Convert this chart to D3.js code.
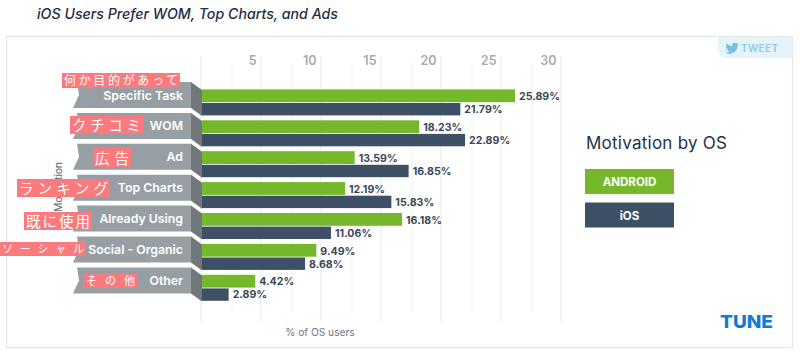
<!DOCTYPE html>
<html><head><meta charset="utf-8">
<script src="https://d3js.org/d3.v7.min.js"></script>
<style>html,body{margin:0;background:#fff}svg{display:block}text{font-family:Inter,"Open Sans",sans-serif}</style>
</head><body><svg id="c" width="800" height="357"></svg>
<script>
const categories=["Specific Task","WOM","Ad","Top Charts","Already Using","Social - Organic","Other"];
const notes=["何か目的があって","クチコミ","広告","ランキング","既に使用","ソーシャル","その他"];
// printed labels
const androidLabels=[25.89,18.23,13.59,12.19,16.18,9.49,4.42];
const iosLabels=[21.79,22.89,16.85,15.83,11.06,8.68,2.89];
// bar lengths as actually drawn in the picture, read against the axis
const androidBars=[26.08,18.1,12.72,11.92,16.67,9.53,4.44];
const iosBars=[21.53,21.92,17.22,15.78,10.75,8.59,2.22];
const majorTicks=[5,10,15,20,25,30];
const minorTicks=[2.5,7.5,12.5,17.5,22.5,27.5];
const seriesNames=["ANDROID","iOS"];
const noteBoxes=[[62,180,73,88],[70,143,116,134],[93,131,148,167],[17,110,179,197],[24,92,212,230],[0,86,242,256],[84,137,274,288]];

const GREEN="#76b82c",NAVY="#3d5066",RIB="#989fa4",FOLD="#71787c",PINK="#fb7a7e";
const svg=d3.select("#c");
const x=d3.scaleLinear().domain([0,30]).range([202,562]);
const y=d3.scaleBand().domain(categories).range([82,82+7*30.9]);
const rows=categories.map((c,i)=>({c,i,a:androidBars[i],s:iosBars[i],la:androidLabels[i],ls:iosLabels[i],n:notes[i]}));

svg.append("text").text("iOS Users Prefer WOM, Top Charts, and Ads")
 .attr("x",37).attr("y",19).attr("font-size",14).attr("font-style","italic").attr("font-weight",500)
 .attr("fill","#1f2d44").attr("textLength",301).attr("lengthAdjust","spacingAndGlyphs");
svg.append("rect").attr("x",6.5).attr("y",36.5).attr("width",786).attr("height",311)
 .attr("fill","#fff").attr("stroke","#e3e6e7").attr("stroke-width",1.2);

// tweet tab
svg.append("path").attr("d","M718 37H792.5V58H728Q718 58 718 48Z").attr("fill","#e6f3f9");
svg.append("path").attr("transform","translate(725.5,41.5) scale(.56)").attr("fill","#74bfe2")
 .attr("d","M23.953 4.57a10 10 0 01-2.825.775 4.958 4.958 0 002.163-2.723c-.951.555-2.005.959-3.127 1.184a4.92 4.92 0 00-8.384 4.482C7.69 8.095 4.067 6.13 1.64 3.162a4.822 4.822 0 00-.666 2.475c0 1.71.87 3.213 2.188 4.096a4.904 4.904 0 01-2.228-.616v.06a4.923 4.923 0 003.946 4.827 4.996 4.996 0 01-2.212.085 4.936 4.936 0 004.604 3.417 9.867 9.867 0 01-6.102 2.105c-.39 0-.779-.023-1.17-.067a13.995 13.995 0 007.557 2.209c9.053 0 13.998-7.496 13.998-13.985 0-.21 0-.42-.015-.63A9.935 9.935 0 0024 4.59z");
svg.append("text").text("TWEET").attr("x",741).attr("y",52).attr("font-size",10).attr("font-weight",600).attr("fill","#8ccbe8")
 .attr("textLength",37);

// grid
svg.append("g").selectAll("line").data(minorTicks).join("line")
 .attr("x1",x).attr("x2",x).attr("y1",65).attr("y2",313).attr("stroke","#f3f4f5").attr("stroke-width",1.2);
svg.append("g").selectAll("line").data([0,...majorTicks]).join("line")
 .attr("x1",d=>x(d)-1).attr("x2",d=>x(d)-1).attr("y1",56).attr("y2",321).attr("stroke","#e9ebec").attr("stroke-width",1.2);
svg.append("g").selectAll("text").data(majorTicks).join("text").text(d=>d)
 .attr("x",d=>x(d)-5.5).attr("y",64.5).attr("text-anchor","end").attr("font-size",12.5).attr("font-weight",600).attr("fill","#a6abae");

// y title (sits behind ribbons and notes)
svg.append("text").text("Motivation").attr("transform","translate(62,212) rotate(-90)")
 .attr("font-size",10.5).attr("fill","#5d6468").attr("textLength",50);

// ribbons
const g=svg.append("g").selectAll("g").data(rows).join("g").attr("transform",d=>`translate(0,${y(d.c)})`);
g.append("path").attr("fill",FOLD).attr("d","M191 0L202 8V34L191 26Z");
g.append("path").attr("fill",RIB).attr("d","M77 0H191V26H73L79 13Z");
g.append("text").text(d=>d.c).attr("x",183).attr("y",17.5).attr("text-anchor","end")
 .attr("font-size",12.3).attr("font-weight",600).attr("fill","#fff");

// bars
g.append("rect").attr("x",x(0)).attr("y",7.4).attr("height",12.8).attr("width",d=>x(d.a)-x(0)).attr("fill",GREEN);
g.append("rect").attr("x",x(0)).attr("y",21).attr("height",12.4).attr("width",d=>x(d.s)-x(0)).attr("fill",NAVY);
g.append("text").text(d=>d.la.toFixed(2)+"%").attr("x",d=>x(d.a)+4).attr("y",18).attr("font-size",10.6).attr("font-weight",700).attr("fill","#3b4757");
g.append("text").text(d=>d.ls.toFixed(2)+"%").attr("x",d=>x(d.s)+4).attr("y",31).attr("font-size",10.6).attr("font-weight",700).attr("fill","#3b4757");

// handwritten notes
const n=svg.append("g").selectAll("g").data(rows).join("g");
n.append("rect").attr("x",d=>noteBoxes[d.i][0]).attr("y",d=>noteBoxes[d.i][2])
 .attr("width",d=>noteBoxes[d.i][1]-noteBoxes[d.i][0]).attr("height",d=>noteBoxes[d.i][3]-noteBoxes[d.i][2]).attr("fill",PINK);
n.append("text").text(d=>d.n).style("font-family",'"Noto Sans CJK JP"')
 .attr("x",d=>noteBoxes[d.i][0]+2).attr("y",d=>noteBoxes[d.i][3]-3)
 .attr("font-size",d=>Math.min(14.5,noteBoxes[d.i][3]-noteBoxes[d.i][2]-3)).attr("fill","#fff")
 .attr("textLength",d=>noteBoxes[d.i][1]-noteBoxes[d.i][0]-4);

svg.append("text").text("% of OS users").attr("x",320).attr("y",336).attr("text-anchor","middle").attr("font-size",10.2).attr("fill","#6f767b");

// legend
svg.append("text").text("Motivation by OS").attr("x",586).attr("y",149).attr("font-size",17).attr("fill","#26324a").attr("textLength",141);
const lg=svg.append("g").selectAll("g").data(seriesNames).join("g").attr("transform",(d,i)=>`translate(585,${169+i*33.5})`);
lg.append("rect").attr("width",89).attr("height",25).attr("fill",(d,i)=>i?NAVY:GREEN);
lg.append("text").text(d=>d).attr("x",44.5).attr("y",17).attr("text-anchor","middle").attr("font-size",11.5).attr("font-weight",700).attr("fill","#fff");

svg.append("text").text("TUNE").attr("x",720).attr("y",328).attr("font-size",18).attr("font-weight",800)
 .attr("fill","#1479d4").attr("textLength",53).attr("lengthAdjust","spacingAndGlyphs");
</script></body></html>
